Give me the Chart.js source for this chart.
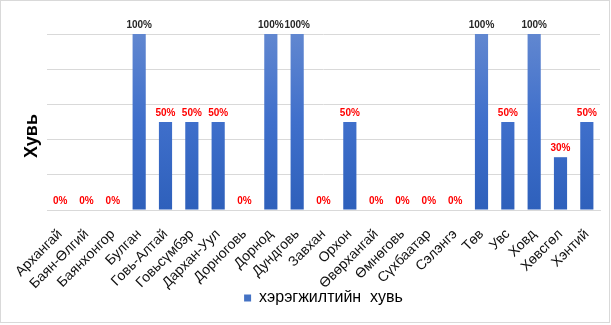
<!DOCTYPE html>
<html>
<head>
<meta charset="utf-8">
<script src="https://cdn.jsdelivr.net/npm/chart.js@4/dist/chart.umd.min.js"></script>
<style>
  html, body { margin: 0; padding: 0; background: #fff; }
  #wrap { width: 611px; height: 325px; position: relative; }
</style>
</head>
<body>
<div id="wrap"><canvas id="chart" width="611" height="325"></canvas></div>
<script>
// Аймгууд
const aimags = [
    'Архангай', 'Баян-Өлгий', 'Баянхонгор', 'Булган', 'Говь-Алтай', 'Говьсүмбэр',
    'Дархан-Уул', 'Дорноговь', 'Дорнод', 'Дундговь', 'Завхан', 'Орхон',
    'Өвөрхангай', 'Өмнөговь', 'Сүхбаатар', 'Сэлэнгэ', 'Төв', 'Увс',
    'Ховд', 'Хөвсгөл', 'Хэнтий'
];
// хэрэгжилтийн хувь (%)
const percents = [0, 0, 0, 100, 50, 50, 50, 0, 100, 100, 0, 50, 0, 0, 0, 0, 100, 50, 100, 30, 50];
const seriesName = 'хэрэгжилтийн  хувь';
const yTitle = 'Хувь';

const FONT = "'Liberation Sans', Arial, sans-serif";

// Баганын дээрх хувийн шошго
const valueLabels = {
    id: 'valueLabels',
    afterDatasetsDraw(chart) {
        const ctx = chart.ctx;
        const meta = chart.getDatasetMeta(0);
        ctx.save();
        ctx.font = 'bold 10px ' + FONT;
        ctx.textAlign = 'center';
        ctx.textBaseline = 'alphabetic';
        meta.data.forEach((bar, i) => {
            const v = percents[i];
            ctx.fillStyle = v === 100 ? '#262626' : '#ff0000';
            ctx.fillText(v + '%', bar.x, bar.y - 6);
        });
        ctx.restore();
    }
};

// Босоо тэнхлэгийн гарчиг ба гадна хүрээ
const frame = {
    id: 'frame',
    afterDraw(chart) {
        const ctx = chart.ctx;
        ctx.save();
        ctx.strokeStyle = '#d9d9d9';
        ctx.lineWidth = 1;
        ctx.strokeRect(0.5, 0.5, chart.width - 2, chart.height - 3);

        ctx.translate(32, 136);
        ctx.rotate(-Math.PI / 2);
        ctx.font = 'bold 18px ' + FONT;
        ctx.fillStyle = '#000';
        ctx.textAlign = 'center';
        ctx.textBaseline = 'middle';
        ctx.fillText(yTitle, 0, 0);
        ctx.restore();
    }
};

function barGradient(context) {
    const area = context.chart.chartArea;
    if (!area) return '#4472c4';
    const g = context.chart.ctx.createLinearGradient(0, area.top, 0, area.bottom);
    g.addColorStop(0, '#6187d0');
    g.addColorStop(0.5, '#3f6fcb');
    g.addColorStop(1, '#2e60bb');
    return g;
}

new Chart(document.getElementById('chart'), {
    type: 'bar',
    data: {
        labels: aimags,
        datasets: [{
            label: seriesName,
            data: percents,
            backgroundColor: barGradient,
            borderWidth: 0,
            barPercentage: 0.5,
            categoryPercentage: 1
        }]
    },
    options: {
        responsive: false,
        animation: false,
        layout: { padding: { top: 34, right: 11, left: 47, bottom: 9 } },
        plugins: {
            tooltip: { enabled: false },
            legend: {
                position: 'bottom',
                labels: {
                    boxWidth: 7,
                    boxHeight: 7,
                    color: '#222',
                    font: { family: FONT, size: 16 },
                    padding: 0,
                    generateLabels(chart) {
                        return [{
                            text: seriesName,
                            fillStyle: '#4472c4',
                            strokeStyle: '#4472c4',
                            lineWidth: 0,
                            datasetIndex: 0
                        }];
                    }
                }
            }
        },
        scales: {
            x: {
                grid: { display: false },
                border: { color: '#d9d9d9' },
                afterFit(scale) { scale.height = 80; },
                ticks: {
                    autoSkip: false,
                    minRotation: 45,
                    maxRotation: 45,
                    padding: 8,
                    color: '#111',
                    font: { family: FONT, size: 14 }
                }
            },
            y: {
                min: 0,
                max: 100,
                ticks: { display: false, stepSize: 20 },
                grid: { color: '#d9d9d9', drawTicks: false },
                border: { display: false }
            }
        }
    },
    plugins: [valueLabels, frame]
});
</script>
</body>
</html>
